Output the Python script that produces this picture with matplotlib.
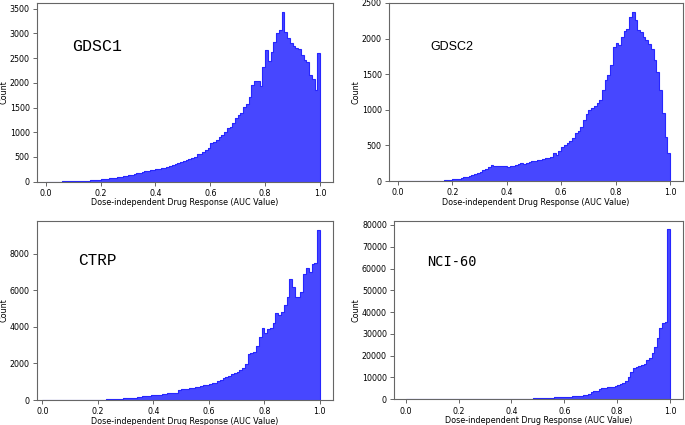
import numpy as np
import matplotlib
matplotlib.use("Agg")
import matplotlib.pyplot as plt

# bin counts, bins of width 0.01 from 0.0 to 1.0
gdsc1 = [1, 1, 2, 2, 3, 3, 4, 4, 5, 6,
         7, 8, 10, 12, 15, 20, 27, 32, 36, 40,
         47, 54, 60, 67, 74, 81, 87, 100, 108, 121,
         128, 141, 155, 168, 182, 195, 209, 222, 236, 242,
         256, 256, 270, 283, 303, 323, 336, 357, 370, 400,
         425, 440, 450, 470, 505, 560, 570, 605, 640, 673,
         775, 810, 840, 910, 940, 1010, 1077, 1110, 1180, 1280,
         1345, 1390, 1510, 1580, 1710, 1950, 2030, 2030, 1930, 2330,
         2660, 2450, 2620, 2830, 3000, 3060, 3440, 3030, 2900, 2800,
         2750, 2700, 2680, 2560, 2460, 2430, 2150, 2080, 1860, 2600]

gdsc2 = [0, 0, 0, 0, 0, 0, 0, 0, 0, 0,
         0, 0, 1, 2, 3, 5, 7, 9, 12, 16,
         22, 27, 33, 40, 50, 60, 72, 85, 100, 115,
         130, 150, 170, 200, 224, 215, 205, 210, 215, 205,
         200, 205, 215, 220, 235, 248, 245, 255, 265, 275,
         285, 290, 300, 305, 320, 330, 335, 388, 360, 420,
         480, 500, 528, 560, 600, 668, 700, 760, 860, 940,
         995, 1020, 1050, 1090, 1135, 1275, 1415, 1485, 1625, 1883,
         1940, 1905, 2023, 2107, 2140, 2300, 2375, 2257, 2117, 2093,
         2023, 1985, 1930, 1860, 1696, 1533, 1276, 950, 620, 388]

ctrp = [0, 0, 0, 0, 0, 0, 0, 0, 0, 0,
        0, 0, 0, 1, 2, 4, 6, 8, 10, 12,
        15, 20, 25, 30, 38, 50, 55, 65, 75, 85,
        90, 105, 120, 135, 155, 180, 200, 215, 235, 250,
        270, 285, 300, 320, 340, 365, 380, 390, 400, 550,
        580, 600, 620, 640, 660, 690, 720, 760, 800, 840,
        875, 910, 950, 1020, 1100, 1180, 1250, 1330, 1400, 1480,
        1550, 1640, 1730, 1970, 2515, 2550, 2640, 2950, 3460, 3920,
        3640, 3880, 3920, 4190, 4770, 4650, 4830, 5190, 5650, 6610,
        6190, 5610, 5650, 5920, 6870, 7250, 7010, 7430, 7470, 9300]

nci60 = [0, 0, 0, 0, 0, 0, 0, 0, 0, 0,
         0, 0, 0, 0, 0, 0, 0, 0, 0, 0,
         0, 0, 0, 0, 0, 0, 0, 0, 5, 10,
         15, 20, 30, 40, 60, 80, 100, 120, 140, 170,
         200, 220, 240, 260, 280, 300, 330, 360, 400, 430,
         460, 520, 580, 640, 700, 765, 830, 900, 960, 1020,
         1070, 1150, 1250, 1350, 1450, 1530, 1650, 1800, 2000, 2500,
         3370, 3700, 3980, 4500, 5050, 5360, 5500, 5660, 5800, 6200,
         6580, 7000, 7650, 8570, 10400, 12700, 14200, 15000, 15300, 15760,
         16000, 18000, 19100, 21100, 24200, 28000, 32600, 34900, 35600, 78000]

names = ["GDSC1", "GDSC2", "CTRP", "NCI-60"]
all_counts = [gdsc1, gdsc2, ctrp, nci60]

edges = np.linspace(0.0, 1.0, 101)

fig = plt.figure(figsize=(6.85, 4.25), dpi=100)

# [left, bottom, width, height], xlim, ylim top, label pos, label font, label size
layout = [
    ([0.054, 0.5725, 0.432, 0.4205], (-0.032, 1.047), 3616, (0.12, 0.754), ["Liberation Mono"], 12),
    ([0.568, 0.574, 0.4295, 0.419], (-0.033, 1.049), 2500, (0.142, 0.754), ["Liberation Sans"], 9),
    ([0.054, 0.0588, 0.432, 0.421], (-0.019, 1.047), 9790, (0.14, 0.777), ["Liberation Mono"], 11.5),
    ([0.5756, 0.0605, 0.4219, 0.4195], (-0.043, 1.050), 81800, (0.112, 0.772), ["DejaVu Sans Mono"], 9.8),
]

for i in range(4):
    pos, xl, ytop, tpos, fam, fs = layout[i]
    ax = fig.add_axes(pos)
    counts = np.array(all_counts[i])
    ax.stairs(counts, edges, fill=True, color=(0.28, 0.28, 1.0), linewidth=0)
    ax.stairs(counts, edges, fill=False, color=(0.15, 0.15, 1.0), linewidth=0.8)
    ax.set_xlim(xl)
    ax.set_ylim(0, ytop)
    ax.set_xticks([0.0, 0.2, 0.4, 0.6, 0.8, 1.0])
    ax.tick_params(labelsize=5.7, length=3, width=0.6, color="0.3", pad=2.3)
    for sp in ax.spines.values():
        sp.set_color("0.4")
        sp.set_linewidth(0.8)
    ax.set_xlabel("Dose-independent Drug Response (AUC Value)", fontsize=5.8, labelpad=0.2)
    ax.set_ylabel("Count", fontsize=5.8, labelpad=1)
    ax.text(tpos[0], tpos[1], names[i], transform=ax.transAxes, fontsize=fs,
            family=fam, va="center", ha="left")

fig.savefig("out.png", dpi=100)
